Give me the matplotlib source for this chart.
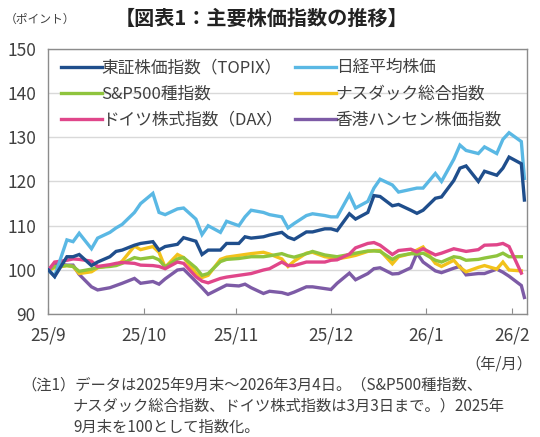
import matplotlib
matplotlib.use("Agg")
import matplotlib.pyplot as plt
import numpy as np
import pandas as pd

plt.rcParams['font.family'] = ['Noto Sans CJK JP', 'DejaVu Sans']

dates = ["2025-09-30", "2025-10-02", "2025-10-06", "2025-10-08", "2025-10-10", "2025-10-14",
         "2025-10-16", "2025-10-20", "2025-10-22", "2025-10-24", "2025-10-28", "2025-10-30",
         "2025-11-03", "2025-11-05", "2025-11-07", "2025-11-11", "2025-11-13", "2025-11-17",
         "2025-11-19", "2025-11-21", "2025-11-25", "2025-11-27", "2025-12-01", "2025-12-03",
         "2025-12-05", "2025-12-09", "2025-12-11", "2025-12-15", "2025-12-17", "2025-12-19",
         "2025-12-23", "2025-12-25", "2025-12-29", "2025-12-31", "2026-01-02", "2026-01-06",
         "2026-01-08", "2026-01-12", "2026-01-14", "2026-01-16", "2026-01-20", "2026-01-22",
         "2026-01-26", "2026-01-28", "2026-01-30", "2026-02-03", "2026-02-05", "2026-02-09",
         "2026-02-11", "2026-02-13", "2026-02-17", "2026-02-19", "2026-02-23", "2026-02-25",
         "2026-02-27", "2026-03-03", "2026-03-04"]

topix = [100, 98.5, 103, 103, 103.5, 101, 101.8, 103, 104.2, 104.5, 105.6, 106,
         106.4, 104.5, 105.3, 105.8, 107.3, 106.5, 103.5, 104.5, 104.5, 106, 106, 107.5,
         107.2, 107.5, 107.9, 108.5, 107.4, 106.9, 108.6, 108.6, 109.3, 109.3, 108.9, 112.7,
         111.5, 113, 116.8, 116.6, 114.5, 114.8, 113.5, 112.8, 113.5, 116.2, 116.5, 120.2,
         123, 123.5, 120, 122.3, 121.4, 123, 125.5, 124, 115.8]
nikkei = [100, 98.6, 106.8, 106.4, 108.3, 104.8, 107.2, 108.5, 109.5, 110.3, 113, 115,
          117.3, 113, 112.5, 113.8, 114, 111.5, 108, 110, 108.5, 111, 110, 112,
          113.5, 113, 112.5, 112, 109.5, 110.5, 112.3, 112.7, 112.3, 112, 112, 117,
          114, 115.5, 118.5, 120.5, 119.2, 117.6, 118.2, 118.5, 118.5, 121.8, 120, 125,
          128.2, 127, 126.3, 127.8, 126.3, 129.5, 131, 129, 120.7]
sp500 = [100, 100.8, 101, 100.8, 99.7, 100.2, 100.6, 100.8, 101, 101.5, 102.8, 102.5,
         102.9, 102.3, 100.7, 102.5, 102.8, 100.5, 98.8, 99.2, 101.9, 102.4, 102.6, 102.8,
         103, 103, 103.2, 103.7, 103.2, 102.9, 103.7, 104.2, 103.4, 103.2, 103, 103.5,
         103.8, 104.3, 104.3, 104.2, 102.4, 103.2, 103.7, 103.6, 103.8, 102.2, 101.8, 103,
         102.8, 102.2, 102.4, 102.7, 103.2, 103.8, 103, 103, None]
nasdaq = [100, 100.5, 101, 100.8, 99.2, 99.6, 100.5, 101, 101.1, 102, 105.4, 104.6,
          105.3, 104, 100.6, 103.5, 102.8, 99.3, 98.3, 98.8, 102.4, 102.9, 103.3, 103.5,
          103.7, 104, 103.6, 102.5, 100.8, 102, 103.8, 104, 103, 102.8, 102.5, 103,
          103.3, 104.2, 104.4, 104.4, 101.4, 103, 103.7, 104.5, 105.2, 101.5, 100.8, 102.2,
          100.6, 99.6, 100.6, 101, 100.2, 101.8, 100, 99.8, None]
dax = [100, 101.8, 102.2, 102.5, 102.4, 102, 100.8, 101.2, 101.5, 101.7, 101.5, 101.1,
       101, 100.8, 100.3, 101.8, 101.5, 98.5, 97.5, 97.1, 98.1, 98.4, 98.8, 99,
       99.2, 100, 100.3, 101.8, 101, 101, 101.8, 101.8, 101.8, 102.2, 102.3, 103.6,
       105, 106, 106.2, 105.6, 103.5, 104.4, 104.7, 104.1, 104.8, 103.4, 103.8, 104.8,
       104.5, 104.2, 104.6, 105.6, 105.7, 106, 105.3, 99.3, None]
hangseng = [100, 101.5, 101.1, 101.1, 99, 96.2, 95.5, 96, 96.5, 97, 98.1, 97,
            97.4, 96.8, 98, 100, 100.2, 97.4, 96, 94.5, 95.9, 96.6, 96.4, 96.8,
            96, 94.7, 95.2, 94.9, 94.5, 95, 96.2, 96.2, 95.8, 95.6, 97, 99.3,
            97.8, 99.2, 100.3, 100.5, 99.1, 99.2, 100.5, 103.8, 101.8, 99.8, 99.4, 100.4,
            100.8, 98.9, 99.2, 99.2, 100.2, 99.5, 98.6, 96.5, 93.8]

names = ["東証株価指数（TOPIX）", "日経平均株価", "S&P500種指数",
         "ナスダック総合指数", "ドイツ株式指数（DAX）", "香港ハンセン株価指数"]
colors = ["#1f4e8c", "#5ab8e4", "#8fc43d", "#f2c21b", "#e0468a", "#7d5ba6"]
series = [topix, nikkei, sp500, nasdaq, dax, hangseng]

tick_dates = ["2025-09-30", "2025-10-31", "2025-11-30", "2025-12-31", "2026-01-31", "2026-02-28"]
tick_labels = ["25/9", "25/10", "25/11", "25/12", "26/1", "26/2"]

x = pd.to_datetime(dates)

fig = plt.figure(figsize=(5.40, 4.37), dpi=100)
ax = fig.add_axes([0.0898, 0.2808, 0.887, 0.608])

handles = {}
zorders = [6, 5, 3, 2, 4, 1]
for name, col, vals, zo in zip(names, colors, series, zorders):
    v = np.array([np.nan if a is None else a for a in vals], dtype=float)
    ln, = ax.plot(x, v, color=col, lw=2.4, zorder=zo, solid_joinstyle='miter')
    handles[name] = ln

ax.set_ylim(90, 150)
ax.set_yticks([90, 100, 110, 120, 130, 140, 150])
ax.set_xlim(pd.Timestamp("2025-09-30"), pd.Timestamp("2026-03-05"))
ax.set_xticks(pd.to_datetime(tick_dates))
ax.set_xticklabels(tick_labels)

ax.grid(axis='y', color='#d9d9d9', lw=1.0)
ax.set_axisbelow(True)
for s in ax.spines.values():
    s.set_color('#8c8c8c')
    s.set_linewidth(1.0)
ax.tick_params(axis='x', direction='in', length=4, color='#8c8c8c', pad=9,
               labelsize=12.5, labelcolor='#404040')
ax.tick_params(axis='y', length=0, pad=9, labelsize=12.5, labelcolor='#404040')

order = [0, 2, 4, 1, 3, 5]
leg = ax.legend([handles[names[i]] for i in order], [names[i] for i in order],
                ncol=2, loc='upper left', bbox_to_anchor=(0.003, 1.0),
                frameon=False, fontsize=12, handlelength=2.45, handletextpad=0.0,
                columnspacing=0.75, labelspacing=0.55, borderaxespad=0.25)
for t in leg.get_texts():
    t.set_color('#404040')

fig.text(0.485, 0.958, "【図表1：主要株価指数の推移】", ha='center', va='center',
         fontsize=14.5, fontweight='bold', color='#222222')
fig.text(0.008, 0.955, "（ポイント）", ha='left', va='center', fontsize=8.5, color='#404040')
fig.text(0.985, 0.168, "（年/月）", ha='right', va='center', fontsize=11, color='#404040')

note1 = "（注1）データは2025年9月末～2026年3月4日。（S&P500種指数、"
note2 = "ナスダック総合指数、ドイツ株式指数は3月3日まで。）2025年"
note3 = "9月末を100として指数化。"
fig.text(0.040, 0.119, note1, ha='left', va='center', fontsize=11, color='#404040')
fig.text(0.135, 0.071, note2, ha='left', va='center', fontsize=11, color='#404040')
fig.text(0.135, 0.023, note3, ha='left', va='center', fontsize=11, color='#404040')

fig.savefig("out.png", dpi=100)
